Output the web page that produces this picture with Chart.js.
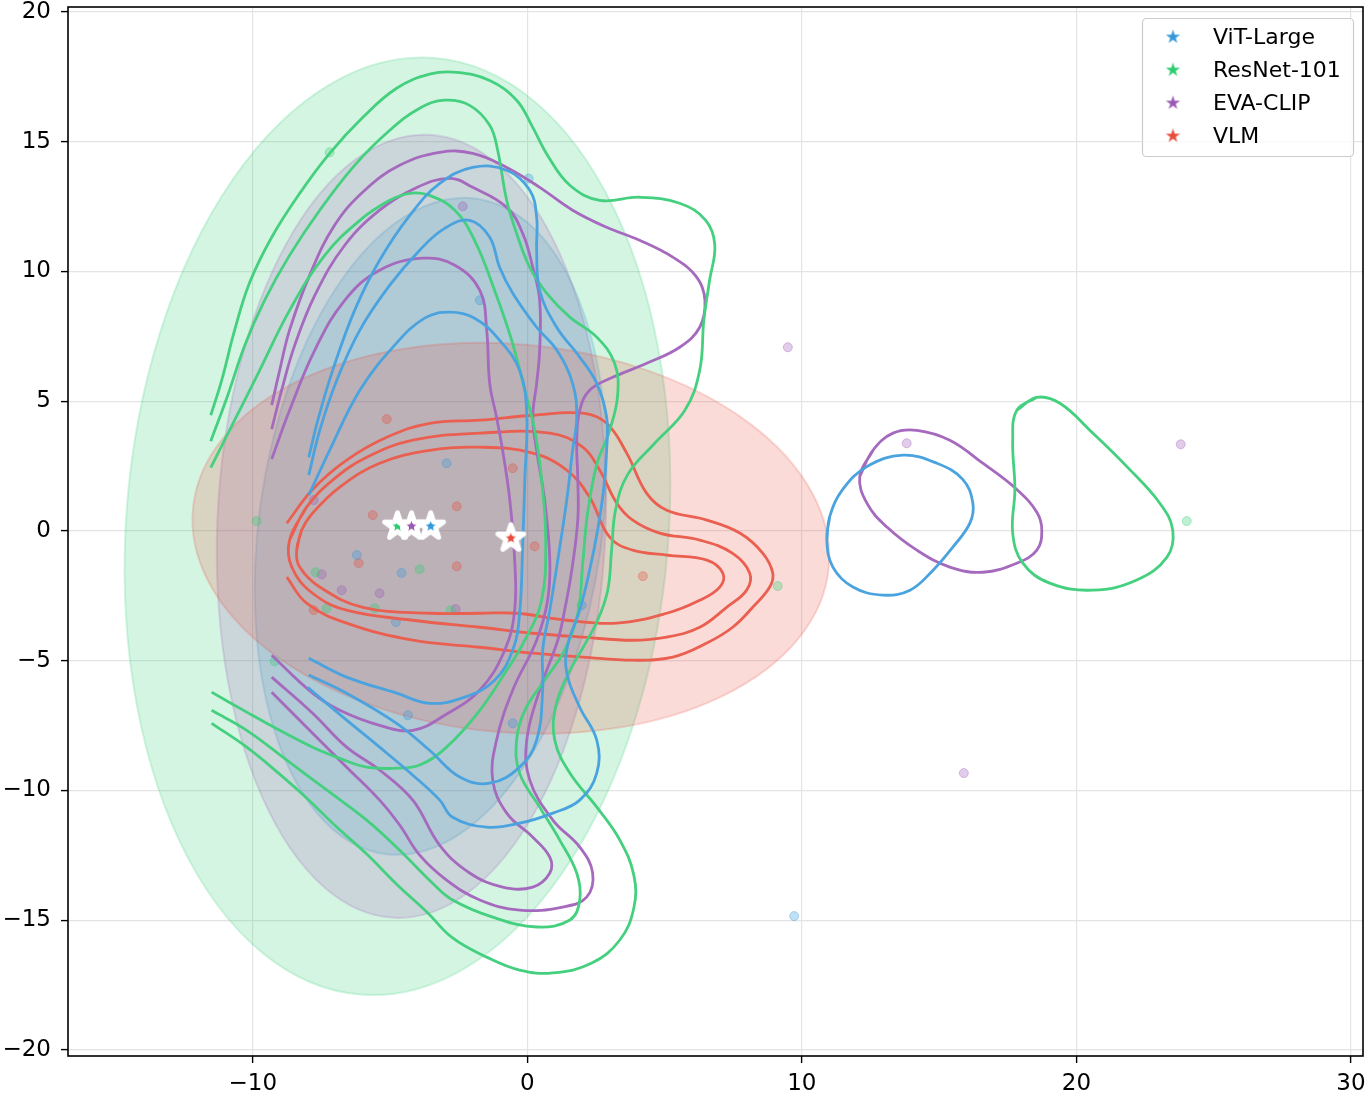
<!DOCTYPE html>
<html>
<head>
<meta charset="utf-8">
<script src="https://cdn.jsdelivr.net/npm/chart.js@4.4.1/dist/chart.umd.min.js"></script>
<style>
  html, body { margin: 0; padding: 0; background: #fff; }
  canvas { display: block; }
</style>
</head>
<body>
<canvas id="chart" width="1372" height="1106"></canvas>
<script>
const modelNames = ['ViT-Large', 'ResNet-101', 'EVA-CLIP', 'VLM'];
const modelColors = ['#3498db', '#2ecc71', '#9b59b6', '#e74c3c'];
const modelRgb = [[52, 152, 219], [46, 204, 113], [155, 89, 182], [231, 76, 60]];
const lineColors = ['#4aa3de', '#44d07f', '#a56abd', '#ea5f50'];

const xTicks = [-10, 0, 10, 20, 30];
const yTicks = [-20, -15, -10, -5, 0, 5, 10, 15, 20];

// centroids (stars) and confidence ellipses, same order as modelNames
const centroidX = [-3.52, -4.73, -4.22, -0.60];
const centroidY = [0.18, 0.18, 0.18, -0.28];
const ellipseRx = [6.25, 9.88, 7.07, 11.63];
const ellipseRy = [12.75, 18.1, 15.1, 7.48];
const ellipseTilt = [8, 4.5, 2.5, 5.3];

// individual samples
const vitPoints = [[0.05, 13.58], [-1.73, 8.89], [-2.94, 2.61], [-6.21, -0.93], [-4.58, -1.62], [-4.79, -3.51],
  [1.98, -2.86], [-4.35, -7.10], [-0.53, -7.41], [9.72, -14.84]];
const resnetPoints = [[-7.20, 14.59], [-9.86, 0.38], [-7.71, -1.59], [-3.92, -1.47], [-5.56, -2.98], [-2.79, -3.05],
  [-7.31, -2.98], [-9.20, -5.02], [9.12, -2.12], [24.02, 0.38]];
const evaPoints = [[-2.35, 12.51], [9.49, 7.08], [13.82, 3.38], [23.80, 3.34], [15.90, -9.33], [-7.49, -1.67],
  [-6.76, -2.28], [-5.38, -2.40], [-2.61, -3.01], [-7.78, 1.19]];
const vlmPoints = [[-5.12, 4.31], [-5.63, 0.61], [-2.57, 0.95], [-6.14, -1.24], [-2.57, -1.36], [-7.78, -3.05],
  [-0.53, 2.42], [0.27, -0.59], [4.21, -1.74]];

// density contours (3 levels per model, outer first)
const vitContour1 = [[-7.96, 2.84], [-7.63, 4.27], [-7.09, 6.19], [-6.29, 8.50], [-5.38, 10.43], [-4.28, 12.16],
  [-3.19, 13.39], [-1.99, 14.01], [-0.75, 13.90], [0.09, 13.13], [0.34, 12.09], [0.34, 10.82], [0.45, 9.27],
  [1.07, 7.85], [1.91, 6.70], [2.53, 5.69], [2.89, 4.38], [2.89, 3.11], [2.78, 1.60], [2.56, 0.03], [2.27, -1.51],
  [1.91, -3.05], [1.47, -4.40], [1.44, -5.48], [1.91, -6.79], [2.53, -8.06], [2.53, -9.33], [1.91, -10.37],
  [0.93, -10.87], [-0.28, -11.26], [-1.48, -11.41], [-2.72, -11.03], [-3.19, -10.37], [-4.17, -9.41],
  [-5.38, -8.33], [-6.58, -7.29], [-8.00, -6.02]];
const vitContour2 = [[-7.96, 2.15], [-7.56, 3.88], [-6.94, 5.81], [-6.10, 7.74], [-5.01, 9.47], [-3.92, 10.82],
  [-3.01, 11.66], [-2.10, 11.97], [-1.37, 11.32], [-1.01, 10.16], [-0.53, 9.16], [0.34, 7.85], [1.07, 6.97],
  [1.65, 5.69], [1.80, 4.38], [1.65, 3.11], [1.44, 1.22], [1.11, -1.12], [0.82, -3.05], [0.56, -4.59],
  [0.56, -6.13], [0.34, -8.06], [-0.28, -9.10], [-1.37, -9.72], [-2.46, -9.48], [-3.56, -8.45], [-4.76, -7.41],
  [-6.58, -6.25], [-7.96, -5.55]];
const vitContour3 = [[-7.96, 1.38], [-7.20, 3.11], [-6.10, 5.42], [-4.83, 7.16], [-3.74, 8.20], [-2.83, 8.43],
  [-1.92, 8.20], [-1.01, 7.35], [-0.28, 6.19], [-0.02, 4.54], [-0.09, 1.99], [-0.17, -0.62], [-0.28, -3.17],
  [-0.53, -4.59], [-1.19, -5.75], [-2.28, -6.40], [-3.56, -6.64], [-4.76, -6.25], [-6.58, -5.63], [-7.96, -4.90]];
const vitIsland = [[10.91, -0.35], [11.02, 0.57], [11.49, 1.60], [12.37, 2.48], [13.68, 2.92], [14.92, 2.61],
  [15.86, 1.99], [16.23, 1.07], [16.12, 0.30], [15.50, -0.62], [14.78, -1.51], [13.94, -2.28], [12.95, -2.47],
  [11.86, -2.16], [11.13, -1.39]];

const resnetContour1 = [[-11.53, 4.46], [-11.13, 5.81], [-10.66, 7.74], [-10.11, 9.58], [-9.31, 11.32],
  [-8.29, 13.01], [-7.20, 14.55], [-5.99, 15.94], [-4.76, 17.06], [-3.56, 17.60], [-2.57, 17.67], [-1.37, 17.36],
  [-0.39, 16.60], [0.16, 15.63], [0.74, 14.47], [1.55, 13.32], [2.64, 12.74], [4.09, 12.86], [5.55, 12.63],
  [6.50, 11.97], [6.83, 11.01], [6.64, 9.66], [6.43, 8.12], [6.28, 6.19], [5.74, 4.65], [4.64, 3.38], [3.66, 2.18],
  [3.22, 0.84], [3.07, -0.74], [2.93, -2.28], [2.56, -3.44], [2.02, -4.51], [1.47, -5.55], [1.03, -6.79],
  [1.00, -8.06], [1.55, -9.33], [2.56, -10.68], [3.37, -11.91], [3.88, -13.26], [3.88, -14.53], [3.37, -15.76],
  [2.35, -16.65], [0.93, -17.03], [-0.28, -16.92], [-1.48, -16.42], [-2.72, -15.68], [-3.66, -14.68],
  [-4.76, -13.61], [-5.85, -12.45], [-6.94, -11.41], [-8.04, -10.29], [-9.02, -9.37], [-10.22, -8.33],
  [-11.50, -7.41]];
const resnetContour2 = [[-11.53, 3.46], [-10.91, 5.23], [-10.29, 7.16], [-9.57, 8.89], [-8.66, 10.62],
  [-7.56, 12.36], [-6.29, 14.09], [-5.01, 15.44], [-3.92, 16.29], [-3.01, 16.60], [-2.10, 16.40], [-1.37, 15.63],
  [-1.08, 14.67], [-0.75, 12.74], [-0.39, 11.47], [0.09, 10.16], [0.71, 9.16], [1.55, 8.24], [2.53, 7.47],
  [3.18, 6.46], [3.29, 5.23], [3.00, 3.88], [2.53, 2.56], [2.20, 0.72], [2.02, -1.24], [1.84, -3.17], [1.36, -4.59],
  [0.63, -5.75], [-0.09, -6.91], [-0.39, -8.06], [-0.28, -9.33], [0.45, -10.64], [1.18, -11.91], [1.80, -13.18],
  [1.91, -14.22], [1.55, -14.99], [0.34, -15.26], [-1.26, -14.88], [-2.72, -14.22], [-3.45, -13.57],
  [-4.65, -12.30], [-5.85, -11.14], [-7.31, -9.98], [-8.76, -8.83], [-10.22, -7.68], [-11.50, -6.91]];
const resnetContour3 = [[-11.53, 2.44], [-10.66, 4.27], [-9.75, 6.19], [-8.66, 8.50], [-7.38, 10.62],
  [-6.10, 11.97], [-5.01, 12.74], [-4.28, 13.01], [-3.56, 12.93], [-2.64, 12.36], [-1.92, 11.20], [-1.19, 9.27],
  [-0.57, 7.35], [-0.09, 5.42], [0.27, 3.88], [0.52, 1.99], [0.67, -0.35], [0.52, -2.67], [-0.09, -4.21],
  [-0.82, -5.48], [-1.81, -7.02], [-2.94, -8.33], [-3.92, -9.02], [-4.76, -9.14], [-5.85, -9.10], [-6.83, -8.76],
  [-7.82, -8.33], [-9.02, -7.68], [-10.22, -6.98], [-11.50, -6.21]];
const resnetIsland = [[17.83, 4.65], [18.56, 5.15], [19.40, 4.92], [20.60, 3.77], [21.84, 2.48], [23.04, 1.07],
  [23.51, 0.03], [23.30, -1.01], [22.20, -1.89], [20.60, -2.28], [19.03, -2.01], [18.05, -1.24], [17.68, -0.08],
  [17.76, 1.60], [17.68, 3.50]];

const evaContour1 = [[-9.31, 4.85], [-9.02, 6.19], [-8.66, 7.74], [-7.93, 9.85], [-7.02, 11.78], [-5.92, 13.13],
  [-4.65, 14.09], [-3.19, 14.59], [-1.99, 14.55], [-0.75, 14.01], [0.45, 13.24], [1.65, 12.36], [2.89, 11.70],
  [4.09, 11.20], [5.30, 10.55], [6.17, 9.78], [6.47, 8.89], [6.28, 7.85], [5.55, 7.08], [4.35, 6.46], [3.11, 5.92],
  [2.27, 5.42], [1.91, 4.65], [1.80, 3.50], [1.84, 1.99], [1.84, 0.45], [1.62, -1.51], [1.36, -3.05], [1.11, -4.21],
  [0.45, -6.13], [-0.02, -8.06], [0.09, -9.60], [0.93, -11.14], [1.91, -12.18], [2.38, -13.18], [2.16, -14.11],
  [1.29, -14.49], [-0.28, -14.61], [-1.73, -14.22], [-2.94, -13.45], [-3.92, -12.49], [-4.65, -11.33],
  [-5.38, -10.37], [-6.58, -9.10], [-7.82, -7.79], [-9.31, -6.21]];
const evaContour2 = [[-9.31, 3.92], [-8.95, 5.42], [-8.47, 7.16], [-7.74, 9.08], [-6.65, 11.01], [-5.38, 12.36],
  [-4.10, 13.20], [-2.83, 13.59], [-1.99, 13.24], [-0.75, 12.47], [-0.17, 11.47], [0.20, 10.16], [0.45, 8.89],
  [0.45, 6.97], [0.34, 5.69], [0.20, 4.38], [0.34, 3.11], [0.63, 1.19], [0.82, -1.12], [0.74, -2.67], [0.34, -4.21],
  [-0.53, -6.13], [-1.12, -8.06], [-1.26, -9.60], [-0.75, -10.87], [0.20, -11.80], [0.82, -12.57], [0.82, -13.18],
  [0.20, -13.72], [-0.90, -13.72], [-2.10, -13.18], [-3.19, -12.11], [-4.17, -10.37], [-5.38, -9.21],
  [-6.58, -8.33], [-7.82, -7.02], [-9.31, -5.63]];
const evaContour3 = [[-9.31, 2.77], [-8.66, 4.65], [-7.74, 6.97], [-6.65, 8.89], [-5.38, 10.05], [-3.81, 10.51],
  [-2.64, 10.24], [-1.73, 9.27], [-1.48, 7.74], [-1.37, 5.69], [-1.12, 4.38], [-0.90, 3.11], [-0.64, 1.22],
  [-0.46, -1.12], [-0.46, -3.05], [-0.82, -4.59], [-1.73, -6.13], [-3.01, -7.10], [-4.17, -7.68], [-5.38, -7.49],
  [-6.83, -6.91], [-7.82, -6.25], [-9.31, -4.79]];
const evaIsland = [[12.11, 2.10], [12.59, 3.11], [13.32, 3.77], [14.19, 3.88], [15.39, 3.50], [16.59, 2.61],
  [17.83, 1.60], [18.56, 0.72], [18.74, 0.03], [18.56, -0.74], [17.83, -1.24], [16.59, -1.59], [15.39, -1.39],
  [14.19, -0.74], [13.10, 0.15], [12.37, 1.07]];

const vlmContour1 = [[-8.76, 0.30], [-7.82, 1.60], [-6.58, 2.73], [-5.12, 3.61], [-3.56, 4.15], [-1.73, 4.27],
  [0.20, 4.46], [2.02, 4.54], [2.89, 4.15], [3.62, 3.00], [4.35, 1.45], [5.08, 0.80], [6.54, 0.42], [7.74, -0.08],
  [8.58, -0.86], [8.94, -1.62], [8.83, -2.16], [8.21, -2.94], [7.48, -3.71], [6.54, -4.32], [5.30, -4.86],
  [3.84, -4.98], [2.02, -4.86], [0.20, -4.71], [-1.73, -4.48], [-4.17, -4.21], [-6.58, -3.55], [-8.04, -2.78],
  [-8.76, -1.78]];
const vlmContour2 = [[-8.66, -0.35], [-8.04, 0.92], [-7.09, 1.96], [-5.85, 2.84], [-4.17, 3.50], [-1.73, 3.77],
  [0.82, 3.77], [2.02, 3.23], [2.64, 2.34], [3.26, 1.07], [3.84, 0.42], [4.82, -0.08], [6.28, -0.35], [7.48, -0.86],
  [8.10, -1.62], [7.99, -2.28], [7.26, -2.94], [6.28, -3.71], [5.08, -4.09], [3.84, -4.21], [2.02, -4.09],
  [0.20, -3.94], [-1.73, -3.71], [-4.17, -3.44], [-6.58, -3.05], [-7.82, -2.40], [-8.58, -1.39]];
const vlmContour3 = [[-8.40, -0.74], [-8.22, 0.03], [-7.82, 0.69], [-6.83, 1.69], [-5.38, 2.61], [-3.56, 3.11],
  [-1.73, 3.23], [0.20, 3.00], [1.44, 2.34], [2.27, 1.30], [3.00, -0.24], [3.84, -0.74], [5.08, -0.93],
  [6.54, -1.12], [7.12, -1.62], [7.01, -2.16], [6.28, -2.67], [5.08, -3.17], [3.26, -3.55], [1.44, -3.44],
  [-0.39, -3.17], [-1.73, -3.17], [-3.56, -3.17], [-5.99, -2.94], [-7.56, -2.16], [-8.29, -1.39]];

const samplePoints = [vitPoints, resnetPoints, evaPoints, vlmPoints];
const openContours = [
  [vitContour1, vitContour2, vitContour3],
  [resnetContour1, resnetContour2, resnetContour3],
  [evaContour1, evaContour2, evaContour3],
  [vlmContour1]
];
const closedContours = [[vitIsland], [resnetIsland], [evaIsland], [vlmContour2, vlmContour3]];

function rgba(i, a) {
  return 'rgba(' + modelRgb[i].join(',') + ',' + a + ')';
}

function starImage(color, r, edge) {
  const size = Math.ceil(2 * r + 2 * edge + 4);
  const c = document.createElement('canvas');
  c.width = c.height = size;
  const g = c.getContext('2d');
  g.beginPath();
  for (let k = 0; k < 10; k++) {
    const rad = k % 2 === 0 ? r : r * 0.382;
    const a = -Math.PI / 2 + k * Math.PI / 5;
    const px = size / 2 + rad * Math.cos(a);
    const py = size / 2 + rad * Math.sin(a);
    if (k === 0) g.moveTo(px, py); else g.lineTo(px, py);
  }
  g.closePath();
  g.fillStyle = color;
  g.fill();
  if (edge > 0) {
    g.lineJoin = 'round';
    g.lineWidth = edge;
    g.strokeStyle = '#ffffff';
    g.stroke();
  }
  return c;
}

const centroidStars = modelColors.map(c => starImage(c, 13.5, 5));
const legendStars = modelColors.map(c => starImage(c, 7.5, 0));

const toXY = pts => pts.map(p => ({ x: p[0], y: p[1] }));

const datasets = [];
modelNames.forEach((name, i) => {
  datasets.push({
    type: 'scatter',
    label: name + ' centroid',
    data: [{ x: centroidX[i], y: centroidY[i] }],
    pointStyle: centroidStars[i],
    pointRadius: 12,
    order: 3 - i
  });
});
modelNames.forEach((name, i) => {
  const lines = openContours[i].map(p => ({ pts: p, closed: false }))
    .concat(closedContours[i].map(p => ({ pts: p, closed: true })));
  lines.forEach(l => {
    const pts = l.closed ? l.pts.concat([l.pts[0], l.pts[1]]) : l.pts;
    datasets.push({
      type: 'line',
      label: name + ' density',
      data: toXY(pts),
      borderColor: lineColors[i],
      borderWidth: 2.8,
      pointRadius: 0,
      tension: 0.4,
      fill: false,
      order: 10
    });
  });
});
modelNames.forEach((name, i) => {
  datasets.push({
    type: 'scatter',
    label: name,
    data: toXY(samplePoints[i]),
    backgroundColor: rgba(i, 0.3),
    borderColor: rgba(i, 0.35),
    borderWidth: 1,
    pointRadius: 4.5,
    order: 20
  });
});

const ellipsePlugin = {
  id: 'ellipses',
  beforeDatasetsDraw(chart) {
    const { ctx, chartArea, scales: { x, y } } = chart;
    const sx = Math.abs(x.getPixelForValue(1) - x.getPixelForValue(0));
    const sy = Math.abs(y.getPixelForValue(0) - y.getPixelForValue(1));
    ctx.save();
    ctx.beginPath();
    ctx.rect(chartArea.left, chartArea.top, chartArea.width, chartArea.height);
    ctx.clip();
    modelNames.forEach((_, i) => {
      ctx.beginPath();
      ctx.ellipse(x.getPixelForValue(centroidX[i]), y.getPixelForValue(centroidY[i]),
        ellipseRx[i] * sx, ellipseRy[i] * sy, ellipseTilt[i] * Math.PI / 180, 0, Math.PI * 2);
      ctx.fillStyle = rgba(i, 0.2);
      ctx.fill();
      ctx.strokeStyle = rgba(i, 0.2);
      ctx.lineWidth = 2;
      ctx.stroke();
    });
    ctx.restore();
  }
};

const framePlugin = {
  id: 'frame',
  afterDatasetsDraw(chart) {
    const { ctx, chartArea } = chart;
    ctx.save();
    ctx.strokeStyle = '#000';
    ctx.lineWidth = 1.6;
    ctx.strokeRect(chartArea.left, chartArea.top, chartArea.width, chartArea.height);
    ctx.restore();
  }
};

const legendPlugin = {
  id: 'starLegend',
  afterDraw(chart) {
    const { ctx, chartArea } = chart;
    const w = 211, h = 138;
    const left = chartArea.right - 10 - w;
    const top = chartArea.top + 11;
    ctx.save();
    ctx.beginPath();
    ctx.roundRect(left + 0.5, top + 0.5, w, h, 4);
    ctx.fillStyle = 'rgba(255,255,255,0.8)';
    ctx.fill();
    ctx.strokeStyle = '#cccccc';
    ctx.lineWidth = 1.2;
    ctx.stroke();
    ctx.font = '22px "DejaVu Sans"';
    ctx.fillStyle = '#000';
    ctx.textBaseline = 'middle';
    modelNames.forEach((name, i) => {
      const cy = top + 19 + i * 33;
      const img = legendStars[i];
      ctx.drawImage(img, left + 31 - img.width / 2, cy - img.height / 2);
      ctx.fillText(name, left + 71, cy + 1);
    });
    ctx.restore();
  }
};

const tickLabel = v => (v < 0 ? '\u2212' + Math.abs(v) : String(v));

const axisStyle = {
  type: 'linear',
  grid: { color: '#e4e4e4', lineWidth: 1.2, tickColor: '#000', tickLength: 7, tickWidth: 1.4 },
  border: { display: false },
  ticks: { font: { family: 'DejaVu Sans', size: 23 }, color: '#000', autoSkip: false, callback: tickLabel }
};

new Chart(document.getElementById('chart').getContext('2d'), {
  type: 'scatter',
  data: { datasets: datasets },
  options: {
    responsive: false,
    animation: false,
    devicePixelRatio: 1,
    events: [],
    layout: { autoPadding: false, padding: { top: 7, right: 9, left: 0, bottom: 0 } },
    plugins: { legend: { display: false }, tooltip: { enabled: false } },
    scales: {
      x: Object.assign({}, axisStyle, {
        min: -16.73, max: 30.44,
        ticks: Object.assign({}, axisStyle.ticks, { padding: 7, maxRotation: 0 }),
        afterBuildTicks: s => { s.ticks = xTicks.map(v => ({ value: v })); },
        afterFit: s => { s.height = 50; s.paddingLeft = 0; s.paddingRight = 0; }
      }),
      y: Object.assign({}, axisStyle, {
        min: -20.23, max: 20.19,
        ticks: Object.assign({}, axisStyle.ticks, { padding: 10 }),
        afterBuildTicks: s => { s.ticks = yTicks.map(v => ({ value: v })); },
        afterFit: s => { s.width = 68; s.paddingTop = 0; s.paddingBottom = 0; }
      })
    }
  },
  plugins: [ellipsePlugin, framePlugin, legendPlugin]
});
</script>
</body>
</html>
